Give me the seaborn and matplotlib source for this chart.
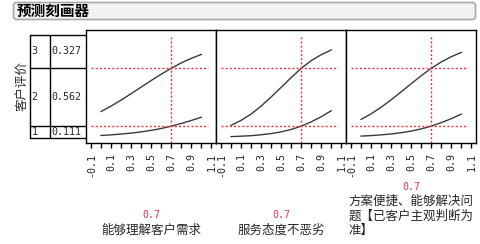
import textwrap
import numpy as np
import pandas as pd
import matplotlib
matplotlib.use("Agg")
import matplotlib.pyplot as plt
import seaborn as sns
from matplotlib.patches import FancyBboxPatch
from matplotlib.transforms import blended_transform_factory

# ---------------- data ----------------
title = "预测刻画器"
response_name = "客户评价"
levels = ["3", "2", "1"]
level_probs = [0.327, 0.562, 0.111]
factors = ["能够理解客户需求", "服务态度不恶劣", "方案便捷、能够解决问题【已客户主观判断为准】"]
current = [0.7, 0.7, 0.7]
current_labels = ["0.7", "0.7", "0.7"]

x_grid = [0.0, 0.1, 0.2, 0.3, 0.4, 0.5, 0.6, 0.7, 0.8, 0.9, 1.0]
# cumulative probability P(level <= 2) and P(level <= 1) for each factor
f1_le2 = [0.252, 0.305, 0.363, 0.426, 0.490, 0.554, 0.616, 0.673, 0.726, 0.770, 0.808]
f1_le1 = [0.020, 0.026, 0.034, 0.043, 0.055, 0.070, 0.088, 0.111, 0.137, 0.166, 0.198]
f2_le2 = [0.118, 0.166, 0.228, 0.305, 0.394, 0.488, 0.583, 0.673, 0.748, 0.806, 0.852]
f2_le1 = [0.009, 0.013, 0.018, 0.027, 0.039, 0.055, 0.079, 0.111, 0.153, 0.203, 0.262]
f3_le2 = [0.175, 0.230, 0.294, 0.366, 0.444, 0.523, 0.601, 0.673, 0.735, 0.786, 0.828]
f3_le1 = [0.014, 0.019, 0.026, 0.035, 0.047, 0.063, 0.084, 0.111, 0.145, 0.184, 0.228]

tick_values = [-0.1, 0.1, 0.3, 0.5, 0.7, 0.9, 1.1]
tick_labels = ["-0.1", "0.1", "0.3", "0.5", "0.7", "0.9", "1.1"]
minor_ticks = [0.0, 0.2, 0.4, 0.6, 0.8, 1.0]

curves = [(f1_le2, f1_le1), (f2_le2, f2_le1), (f3_le2, f3_le1)]

# ---------------- style ----------------
sns.set_theme(style="white")
plt.rcParams["font.family"] = ["Noto Sans CJK SC", "DejaVu Sans"]
MONO = "DejaVu Sans Mono"
RED = "#e8334a"
CURVE = "#3a3a3a"

W, H = 481, 244
fig = plt.figure(figsize=(W / 100, H / 100), dpi=100)

# overlay axes in pixel coordinates
bg = fig.add_axes([0, 0, 1, 1], zorder=0)
bg.set_xlim(0, W)
bg.set_ylim(H, 0)
bg.axis("off")
bg.patch.set_alpha(0)

# title bar
bg.add_patch(FancyBboxPatch((13.5, 2.5), 462, 17,
                            boxstyle="round,pad=0,rounding_size=3",
                            fc="#f2f2f2", ec="#a8a8a8", lw=1.2))
bg.text(17, 11, title, fontsize=10.5, fontweight="bold", ha="left", va="center", color="black")

# panels
p_left, p_top, p_bottom, p_w = 86, 29.5, 142.7, 130
ylim = (-0.05, 1.05)
xlim = (-0.148, 1.145)
axes = []
for i in range(3):
    ax = fig.add_axes([(p_left + i * p_w) / W, 1 - p_bottom / H,
                       p_w / W, (p_bottom - p_top) / H], zorder=2)
    axes.append(ax)
    up, lo = curves[i]
    df = pd.DataFrame({
        "x": x_grid + x_grid,
        "p": up + lo,
        "curve": ["le2"] * len(x_grid) + ["le1"] * len(x_grid),
    })
    sns.lineplot(data=df, x="x", y="p", hue="curve", palette=[CURVE, CURVE],
                 legend=False, ax=ax, linewidth=1.0, sort=True)
    ax.set_xlim(*xlim)
    ax.set_ylim(*ylim)
    # reference lines
    cum = np.cumsum(level_probs[::-1])  # 0.111, 0.673, 1.0
    for c in cum[:-1]:
        ax.plot([-0.1, 1.07], [c, c], color=RED, lw=1.0, ls=(0, (1.5, 1.5)))
    ax.plot([current[i], current[i]], [ylim[0], 1.0], color=RED, lw=1.0, ls=(0, (1.5, 1.5)))
    ax.set_xlabel("")
    ax.set_ylabel("")
    ax.set_yticks([])
    ax.set_xticks(tick_values)
    ax.set_xticklabels(tick_labels, rotation=90, family=MONO, fontsize=7.2)
    ax.set_xticks(minor_ticks, minor=True)
    ax.tick_params(axis="x", which="both", bottom=True, direction="out",
                   length=3.6, width=1, color="black", pad=3.5)
    for s in ax.spines.values():
        s.set_visible(True)
        s.set_color("black")
        s.set_linewidth(1.0)
    for lab in ax.get_xticklabels():
        lab.set_va("top")

# table on the left, y in probability units of the first panel
tr = blended_transform_factory(bg.transData, axes[0].transData)
cum = np.cumsum(level_probs[::-1])
bounds = [0.0] + list(cum)
for b in bounds:
    bg.plot([30, p_left], [b, b], color="black", lw=1.0, transform=tr, clip_on=False)
for xv in [30.5, 50.5]:
    bg.plot([xv, xv], [0, 1.0], color="black", lw=1.0, transform=tr, clip_on=False)
rows_lo = bounds[:-1][::-1]
rows_hi = bounds[1:][::-1]
for lev, pr, lo_b, hi_b in zip(levels, level_probs, rows_lo, rows_hi):
    yc = (lo_b + hi_b) / 2
    bg.text(31.5, yc, lev, transform=tr, family=MONO, fontsize=7.2, ha="left", va="center")
    bg.text(51.5, yc, f"{pr:.3f}", transform=tr, family=MONO, fontsize=7.2, ha="left", va="center")

# response label
bg.text(22.5, 86, response_name, rotation=90, fontsize=9, ha="center", va="center")

# factor labels and current values
for i, (name, cl) in enumerate(zip(factors, current_labels)):
    xc = p_left + i * p_w + p_w / 2
    lines = textwrap.wrap(name, 10)
    n = len(lines)
    y_last = 230
    y_first = y_last - (n - 1) * 14
    bg.text(xc, (y_first + y_last) / 2, "\n".join(lines), fontsize=9, ha="center",
            va="center", multialignment="left", linespacing=1.18)
    bg.text(xc, y_first - 15, cl, family=MONO, fontsize=7.2, color=RED,
            ha="center", va="center")

fig.savefig("out.png", dpi=100)
